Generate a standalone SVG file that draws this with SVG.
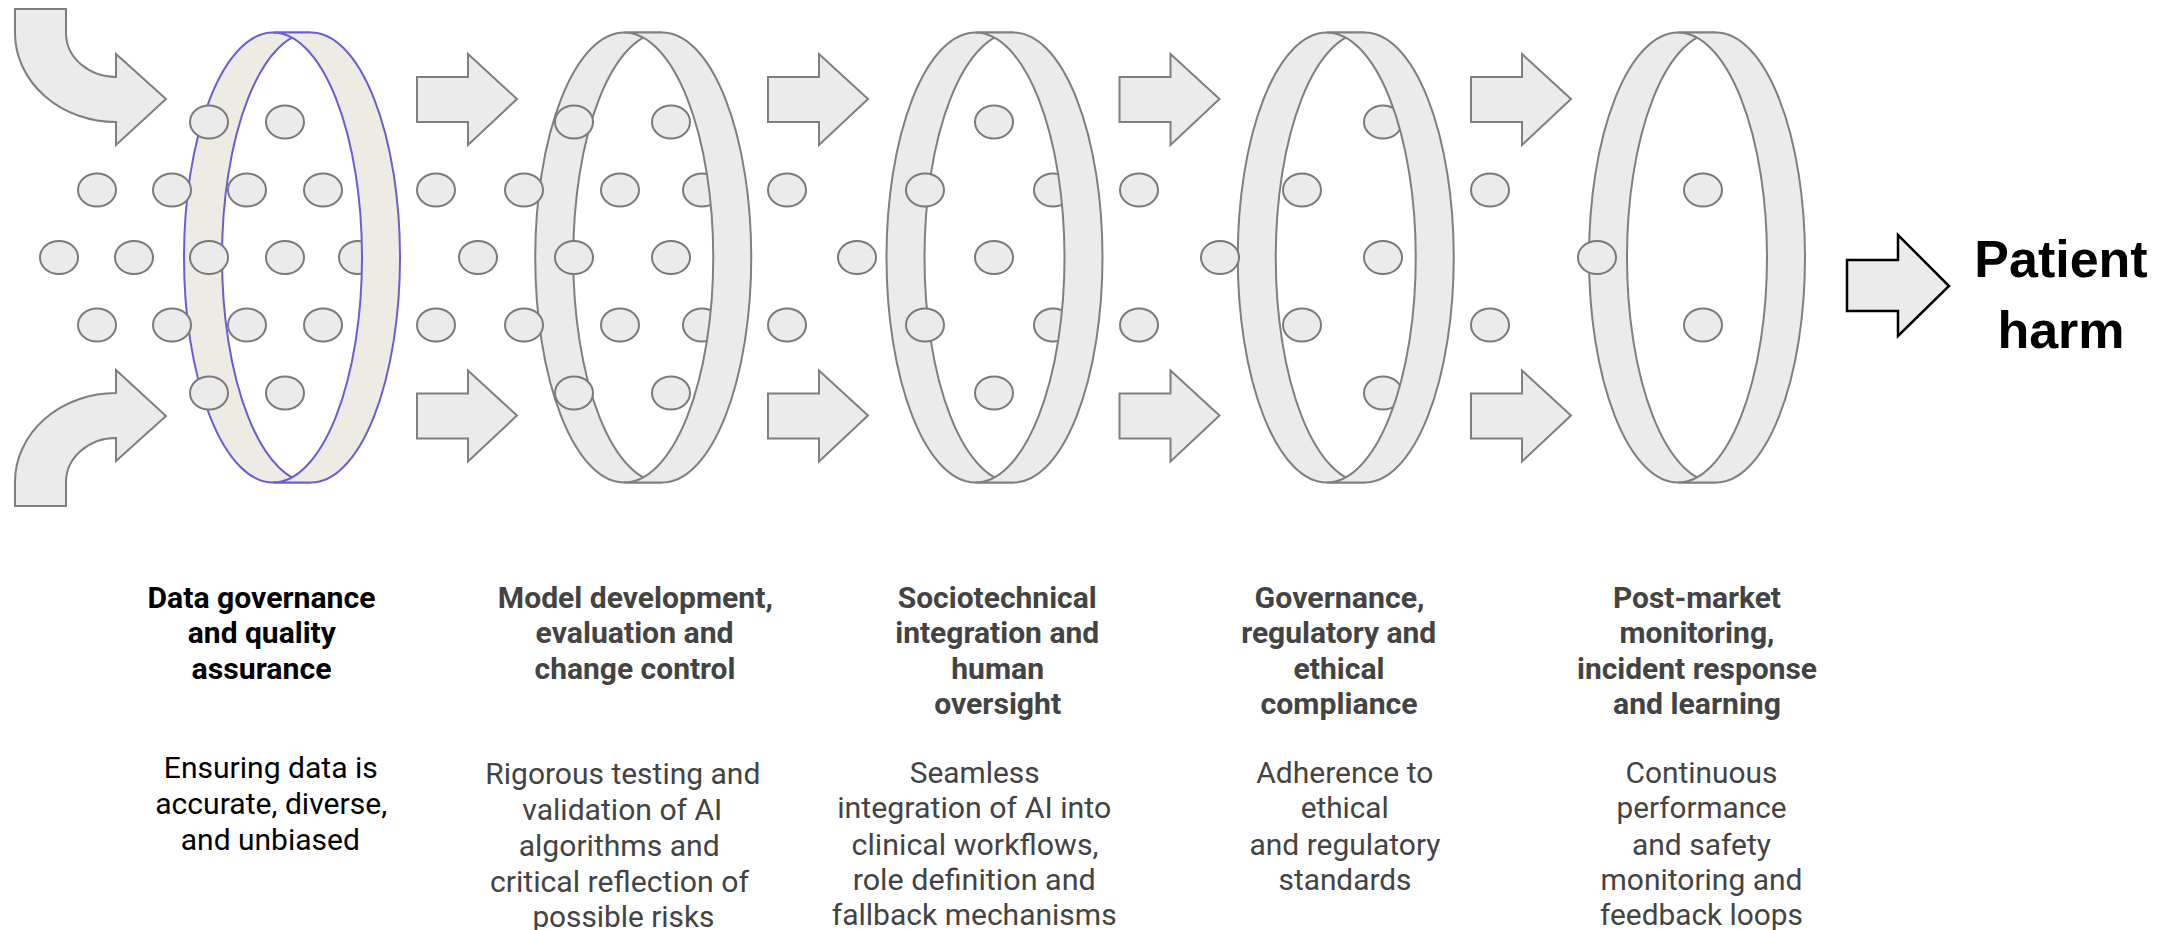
<svg xmlns="http://www.w3.org/2000/svg" xmlns:xlink="http://www.w3.org/1999/xlink" width="2175" height="930" viewBox="0 0 2175 930">
<defs>
<style>
.band{fill:#ebebeb;stroke:#7f7f7f;stroke-width:2}
.bandp{fill:#eeebe4;stroke:#6b5dd3;stroke-width:2}
.dot{fill:#ebebeb;stroke:#7a7a7a;stroke-width:2}
.arr{fill:#ebebeb;stroke:#7f7f7f;stroke-width:2;stroke-linejoin:miter}
.arrk{fill:#ebebeb;stroke:#000;stroke-width:2.5;stroke-linejoin:miter}
.t{font-family:Roboto,"Liberation Sans",sans-serif;font-weight:700;font-size:29px;text-anchor:middle;fill:#434343}
.d{font-family:Roboto,"Liberation Sans",sans-serif;font-weight:400;font-size:29px;text-anchor:middle;fill:#434343}
.k{fill:#000}
.ph{font-family:"Liberation Sans",Arial,sans-serif;font-weight:700;font-size:52px;text-anchor:middle;fill:#000}
</style>
<path id="blk" d="M0,23 L51,23 L51,0 L100,45 L51,91 L51,68 L0,68 Z"/>
</defs>
<rect width="2175" height="930" fill="#fff"/>

<g id="connectors">
<path class="arr" d="M15,9 L66,9 L66,33 A50,44 0 0 0 116,77 L116,54 L166,99 L116,145 L116,122 A101,89 0 0 1 15,33 Z"/>
<path class="arr" transform="translate(0,515) scale(1,-1)" d="M15,9 L66,9 L66,33 A50,44 0 0 0 116,77 L116,54 L166,99 L116,145 L116,122 A101,89 0 0 1 15,33 Z"/>
<use class="arr" xlink:href="#blk" href="#blk" transform="translate(417,54)"/>
<use class="arr" xlink:href="#blk" href="#blk" transform="translate(417,370.5)"/>
<use class="arr" xlink:href="#blk" href="#blk" transform="translate(768,54)"/>
<use class="arr" xlink:href="#blk" href="#blk" transform="translate(768,370.5)"/>
<use class="arr" xlink:href="#blk" href="#blk" transform="translate(1119.5,54)"/>
<use class="arr" xlink:href="#blk" href="#blk" transform="translate(1119.5,370.5)"/>
<use class="arr" xlink:href="#blk" href="#blk" transform="translate(1471,54)"/>
<use class="arr" xlink:href="#blk" href="#blk" transform="translate(1471,370.5)"/>
<path class="arrk" d="M1847,260 L1898,260 L1898,235 L1949,286 L1898,336 L1898,311 L1847,311 Z"/>
</g>

<g id="layer1">
<path class="bandp" d="M273,32.5 A89,225 0 0 0 273,482.5 L311,482.5 A89,225 0 0 1 311,32.5 Z"/>
<ellipse class="dot" cx="209" cy="122" rx="19" ry="16.5"/>
<ellipse class="dot" cx="285" cy="122" rx="19" ry="16.5"/>
<ellipse class="dot" cx="97" cy="190" rx="19" ry="16.5"/>
<ellipse class="dot" cx="172" cy="190" rx="19" ry="16.5"/>
<ellipse class="dot" cx="247" cy="190" rx="19" ry="16.5"/>
<ellipse class="dot" cx="323" cy="190" rx="19" ry="16.5"/>
<ellipse class="dot" cx="59" cy="257.5" rx="19" ry="16.5"/>
<ellipse class="dot" cx="134" cy="257.5" rx="19" ry="16.5"/>
<ellipse class="dot" cx="209" cy="257.5" rx="19" ry="16.5"/>
<ellipse class="dot" cx="285" cy="257.5" rx="19" ry="16.5"/>
<ellipse class="dot" cx="358" cy="257.5" rx="19" ry="16.5"/>
<ellipse class="dot" cx="97" cy="325" rx="19" ry="16.5"/>
<ellipse class="dot" cx="172" cy="325" rx="19" ry="16.5"/>
<ellipse class="dot" cx="247" cy="325" rx="19" ry="16.5"/>
<ellipse class="dot" cx="323" cy="325" rx="19" ry="16.5"/>
<ellipse class="dot" cx="209" cy="393" rx="19" ry="16.5"/>
<ellipse class="dot" cx="285" cy="393" rx="19" ry="16.5"/>
<path class="bandp" d="M273,32.5 L311,32.5 A89,225 0 0 1 311,482.5 L273,482.5 A89,225 0 0 0 273,32.5 Z"/>
<text class="t k" x="261.5" y="608" textLength="228" lengthAdjust="spacingAndGlyphs">Data governance</text>
<text class="t k" x="261.8" y="643" textLength="148" lengthAdjust="spacingAndGlyphs">and quality</text>
<text class="t k" x="261.6" y="679" textLength="140" lengthAdjust="spacingAndGlyphs">assurance</text>
<text class="d k" x="270.8" y="778" textLength="214" lengthAdjust="spacingAndGlyphs">Ensuring data is</text>
<text class="d k" x="271.2" y="814" textLength="232" lengthAdjust="spacingAndGlyphs">accurate, diverse,</text>
<text class="d k" x="270.3" y="850" textLength="179" lengthAdjust="spacingAndGlyphs">and unbiased</text>
</g>

<g id="layer2">
<path class="band" d="M624.25,32.5 A89,225 0 0 0 624.25,482.5 L662.25,482.5 A89,225 0 0 1 662.25,32.5 Z"/>
<ellipse class="dot" cx="574" cy="122" rx="19" ry="16.5"/>
<ellipse class="dot" cx="671" cy="122" rx="19" ry="16.5"/>
<ellipse class="dot" cx="436" cy="190" rx="19" ry="16.5"/>
<ellipse class="dot" cx="524" cy="190" rx="19" ry="16.5"/>
<ellipse class="dot" cx="620" cy="190" rx="19" ry="16.5"/>
<ellipse class="dot" cx="702" cy="190" rx="19" ry="16.5"/>
<ellipse class="dot" cx="478" cy="257.5" rx="19" ry="16.5"/>
<ellipse class="dot" cx="574" cy="257.5" rx="19" ry="16.5"/>
<ellipse class="dot" cx="671" cy="257.5" rx="19" ry="16.5"/>
<ellipse class="dot" cx="436" cy="325" rx="19" ry="16.5"/>
<ellipse class="dot" cx="524" cy="325" rx="19" ry="16.5"/>
<ellipse class="dot" cx="620" cy="325" rx="19" ry="16.5"/>
<ellipse class="dot" cx="702" cy="325" rx="19" ry="16.5"/>
<ellipse class="dot" cx="574" cy="393" rx="19" ry="16.5"/>
<ellipse class="dot" cx="671" cy="393" rx="19" ry="16.5"/>
<path class="band" d="M624.25,32.5 L662.25,32.5 A89,225 0 0 1 662.25,482.5 L624.25,482.5 A89,225 0 0 0 624.25,32.5 Z"/>
<text class="t" x="635.3" y="608" textLength="275" lengthAdjust="spacingAndGlyphs">Model development,</text>
<text class="t" x="634.6" y="643" textLength="198" lengthAdjust="spacingAndGlyphs">evaluation and</text>
<text class="t" x="635" y="679" textLength="201" lengthAdjust="spacingAndGlyphs">change control</text>
<text class="d" x="622.8" y="784" textLength="275" lengthAdjust="spacingAndGlyphs">Rigorous testing and</text>
<text class="d" x="622.3" y="820" textLength="200" lengthAdjust="spacingAndGlyphs">validation of AI</text>
<text class="d" x="619.2" y="856" textLength="201" lengthAdjust="spacingAndGlyphs">algorithms and</text>
<text class="d" x="619.4" y="892" textLength="259" lengthAdjust="spacingAndGlyphs">critical reflection of</text>
<text class="d" x="623.4" y="927" textLength="182" lengthAdjust="spacingAndGlyphs">possible risks</text>
</g>

<g id="layer3">
<path class="band" d="M975.5,32.5 A89,225 0 0 0 975.5,482.5 L1013.5,482.5 A89,225 0 0 1 1013.5,32.5 Z"/>
<ellipse class="dot" cx="994" cy="122" rx="19" ry="16.5"/>
<ellipse class="dot" cx="787" cy="190" rx="19" ry="16.5"/>
<ellipse class="dot" cx="925" cy="190" rx="19" ry="16.5"/>
<ellipse class="dot" cx="1053" cy="190" rx="19" ry="16.5"/>
<ellipse class="dot" cx="857" cy="257.5" rx="19" ry="16.5"/>
<ellipse class="dot" cx="994" cy="257.5" rx="19" ry="16.5"/>
<ellipse class="dot" cx="787" cy="325" rx="19" ry="16.5"/>
<ellipse class="dot" cx="925" cy="325" rx="19" ry="16.5"/>
<ellipse class="dot" cx="1053" cy="325" rx="19" ry="16.5"/>
<ellipse class="dot" cx="994" cy="393" rx="19" ry="16.5"/>
<path class="band" d="M975.5,32.5 L1013.5,32.5 A89,225 0 0 1 1013.5,482.5 L975.5,482.5 A89,225 0 0 0 975.5,32.5 Z"/>
<text class="t" x="997.2" y="608" textLength="199" lengthAdjust="spacingAndGlyphs">Sociotechnical</text>
<text class="t" x="997.2" y="643" textLength="204" lengthAdjust="spacingAndGlyphs">integration and</text>
<text class="t" x="997.7" y="679" textLength="93" lengthAdjust="spacingAndGlyphs">human</text>
<text class="t" x="997.7" y="714" textLength="127" lengthAdjust="spacingAndGlyphs">oversight</text>
<text class="d" x="974.7" y="783" textLength="130" lengthAdjust="spacingAndGlyphs">Seamless</text>
<text class="d" x="974.2" y="818" textLength="274" lengthAdjust="spacingAndGlyphs">integration of AI into</text>
<text class="d" x="975.1" y="855" textLength="247" lengthAdjust="spacingAndGlyphs">clinical workflows,</text>
<text class="d" x="974.2" y="890" textLength="243" lengthAdjust="spacingAndGlyphs">role definition and</text>
<text class="d" x="974.2" y="925" textLength="285" lengthAdjust="spacingAndGlyphs">fallback mechanisms</text>
</g>

<g id="layer4">
<path class="band" d="M1326.75,32.5 A89,225 0 0 0 1326.75,482.5 L1364.75,482.5 A89,225 0 0 1 1364.75,32.5 Z"/>
<ellipse class="dot" cx="1383" cy="122" rx="19" ry="16.5"/>
<ellipse class="dot" cx="1139" cy="190" rx="19" ry="16.5"/>
<ellipse class="dot" cx="1302" cy="190" rx="19" ry="16.5"/>
<ellipse class="dot" cx="1220" cy="257.5" rx="19" ry="16.5"/>
<ellipse class="dot" cx="1383" cy="257.5" rx="19" ry="16.5"/>
<ellipse class="dot" cx="1139" cy="325" rx="19" ry="16.5"/>
<ellipse class="dot" cx="1302" cy="325" rx="19" ry="16.5"/>
<ellipse class="dot" cx="1383" cy="393" rx="19" ry="16.5"/>
<path class="band" d="M1326.75,32.5 L1364.75,32.5 A89,225 0 0 1 1364.75,482.5 L1326.75,482.5 A89,225 0 0 0 1326.75,32.5 Z"/>
<text class="t" x="1339.6" y="608" textLength="170" lengthAdjust="spacingAndGlyphs">Governance,</text>
<text class="t" x="1338.7" y="643" textLength="195" lengthAdjust="spacingAndGlyphs">regulatory and</text>
<text class="t" x="1339" y="679" textLength="91" lengthAdjust="spacingAndGlyphs">ethical</text>
<text class="t" x="1339.1" y="714" textLength="157" lengthAdjust="spacingAndGlyphs">compliance</text>
<text class="d" x="1344.8" y="783" textLength="177" lengthAdjust="spacingAndGlyphs">Adherence to</text>
<text class="d" x="1344.7" y="818" textLength="88" lengthAdjust="spacingAndGlyphs">ethical</text>
<text class="d" x="1345" y="855" textLength="191" lengthAdjust="spacingAndGlyphs">and regulatory</text>
<text class="d" x="1345" y="890" textLength="133" lengthAdjust="spacingAndGlyphs">standards</text>
</g>

<g id="layer5">
<path class="band" d="M1678,32.5 A89,225 0 0 0 1678,482.5 L1716,482.5 A89,225 0 0 1 1716,32.5 Z"/>
<ellipse class="dot" cx="1490" cy="190" rx="19" ry="16.5"/>
<ellipse class="dot" cx="1703" cy="190" rx="19" ry="16.5"/>
<ellipse class="dot" cx="1597" cy="257.5" rx="19" ry="16.5"/>
<ellipse class="dot" cx="1490" cy="325" rx="19" ry="16.5"/>
<ellipse class="dot" cx="1703" cy="325" rx="19" ry="16.5"/>
<path class="band" d="M1678,32.5 L1716,32.5 A89,225 0 0 1 1716,482.5 L1678,482.5 A89,225 0 0 0 1678,32.5 Z"/>
<text class="t" x="1697" y="608" textLength="168" lengthAdjust="spacingAndGlyphs">Post-market</text>
<text class="t" x="1697" y="643" textLength="155" lengthAdjust="spacingAndGlyphs">monitoring,</text>
<text class="t" x="1697" y="679" textLength="240" lengthAdjust="spacingAndGlyphs">incident response</text>
<text class="t" x="1697" y="714" textLength="168" lengthAdjust="spacingAndGlyphs">and learning</text>
<text class="d" x="1701.5" y="783" textLength="152" lengthAdjust="spacingAndGlyphs">Continuous</text>
<text class="d" x="1701.5" y="818" textLength="170" lengthAdjust="spacingAndGlyphs">performance</text>
<text class="d" x="1701.5" y="855" textLength="139" lengthAdjust="spacingAndGlyphs">and safety</text>
<text class="d" x="1701.5" y="890" textLength="202" lengthAdjust="spacingAndGlyphs">monitoring and</text>
<text class="d" x="1701.5" y="925" textLength="203" lengthAdjust="spacingAndGlyphs">feedback loops</text>
</g>

<g id="outcome">
<text class="ph" x="2061" y="277">Patient</text>
<text class="ph" x="2061" y="348">harm</text>
</g>
</svg>
